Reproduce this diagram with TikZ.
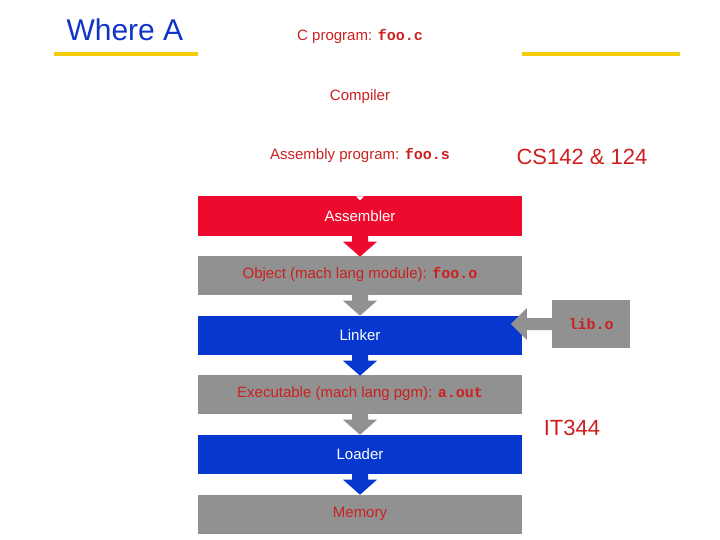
\documentclass[tikz,border=0pt]{standalone}
\usepackage{fontspec}
\setmainfont{Liberation Sans}
\setmonofont{Liberation Mono}
\usetikzlibrary{positioning}
\definecolor{stepred}{HTML}{EE0A2E}
\definecolor{stepblue}{HTML}{0638D0}
\definecolor{stepgray}{HTML}{919191}
\definecolor{txtred}{HTML}{CC2020}
\definecolor{titleblue}{HTML}{1034C8}
\definecolor{baryellow}{HTML}{F5CC0A}
\newcommand{\fn}[1]{\textbf{\texttt{#1}}}
\newcommand{\downarrowblock}[2]{\fill[#2,shift={(#1.south)}] (-8,0) -- (-8,6) -- (-17,6) -- (0,21) -- (17,6) -- (8,6) -- (8,0) -- cycle;}
\begin{document}
\begin{tikzpicture}[x=1pt,y=-1pt,font=\fontsize{15}{17}\selectfont]
\tikzset{stage/.style={rectangle,minimum width=324pt,minimum height=39pt,inner sep=0pt},
  plain/.style={text=txtred}}
\useasboundingbox (0,0) rectangle (720,540);

% title and bars
\node [text=titleblue,font=\fontsize{30}{34}\selectfont,anchor=west] (title) at (63,30) {Where A};
\fill [baryellow] (54,52) rectangle (198,56);
\fill [baryellow] (522,52) rectangle (680,56);

% top (white) stages
\node [plain] (cprog) at (360,37) {C program: \fn{foo.c}};
\node [plain] (comp) at (360,97) {Compiler};
\node [plain] (asm) at (360,156) {Assembly program: \fn{foo.s}};

% coloured stages
\node [stage,fill=stepred,text=white] (assembler) at (360,216) {Assembler};
\node [stage,fill=stepgray,text=txtred] (object) at (360,275) {Object (mach lang module): \fn{foo.o}};
\node [stage,fill=stepblue,text=white] (linker) at (360,335) {Linker};
\node [stage,fill=stepgray,text=txtred] (exe) at (360,394) {Executable (mach lang pgm): \fn{a.out}};
\node [stage,fill=stepblue,text=white] (loader) at (360,454) {Loader};
\node [stage,fill=stepgray,text=txtred] (memory) at (360,514) {Memory};

\node [rectangle,fill=stepgray,minimum width=78pt,minimum height=48pt,text=txtred] (lib) at (591,324) {\fn{lib.o}};

% arrows
\fill [white,shift={(assembler.north)}] (-4,0) -- (4,0) -- (0,4) -- cycle;
\downarrowblock{assembler}{stepred}
\downarrowblock{object}{stepgray}
\downarrowblock{linker}{stepblue}
\downarrowblock{exe}{stepgray}
\downarrowblock{loader}{stepblue}
\fill [stepgray,shift={(lib.west)}] (0,-6) -- (-25,-6) -- (-25,-16) -- (-41,0) -- (-25,16) -- (-25,6) -- (0,6) -- cycle;

% course labels
\node [text=txtred,font=\fontsize{22}{26}\selectfont] (cs) at (582,157) {CS142 \& 124};
\node [text=txtred,font=\fontsize{22}{26}\selectfont] (it) at (572,428) {IT344};
\end{tikzpicture}
\end{document}
